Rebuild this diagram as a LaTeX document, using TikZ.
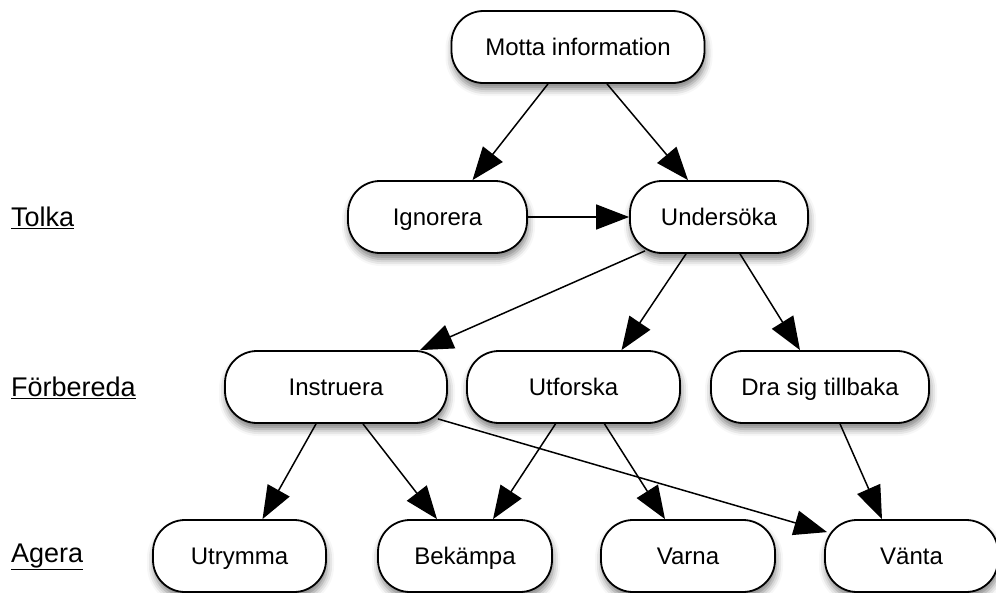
\documentclass[tikz,border=0pt]{standalone}
\usepackage{fontspec}
\setmainfont{Liberation Sans}
\usetikzlibrary{arrows.meta,shadows.blur}
\begin{document}
\begin{tikzpicture}[x=1pt,y=-1pt,
  box/.style={draw=black,line width=1.8pt,fill=white,rounded corners=32pt,
    minimum height=72pt,inner sep=0pt,text height=20pt,text depth=3pt,
    font=\fontsize{24}{27}\selectfont,
    blur shadow={shadow xshift=1pt,shadow yshift=-6pt,shadow blur radius=7pt,shadow opacity=50}},
  lvl/.style={anchor=west,inner sep=0pt,font=\fontsize{27}{30}\selectfont},
  edge/.style={line width=1.5pt,-{Triangle[length=33pt,width=25pt]}}]
\useasboundingbox (0,0) rectangle (996,592);
% nodes
\node[box,minimum width=253pt] (mo) at (578,47) {Motta information};
\node[box,minimum width=179pt] (ig) at (437.5,217) {Ignorera};
\node[box,minimum width=178pt] (un) at (719,217) {Undersöka};
\node[box,minimum width=222pt] (in) at (336,387) {Instruera};
\node[box,minimum width=213pt] (ut) at (573.5,387) {Utforska};
\node[box,minimum width=218pt] (dr) at (820,387) {Dra sig tillbaka};
\node[box,minimum width=173pt] (ur) at (239.5,556) {Utrymma};
\node[box,minimum width=174pt] (be) at (465,556) {Bekämpa};
\node[box,minimum width=174pt] (va) at (688,556) {Varna};
\node[box,minimum width=173pt] (vn) at (911.5,556) {Vänta};
% level labels
\node[lvl] (lt) at (11,218) {\underline{Tolka}};
\node[lvl] (lf) at (11,388) {\underline{Förbereda}};
\node[lvl] (la) at (11,557) {\underline{Agera}};
% edges
\draw[edge] ([xshift=-30pt]mo.south) -- ([xshift=35pt]ig.north);
\draw[edge] ([xshift=29pt]mo.south) -- ([xshift=-31pt]un.north);
\draw[edge] (ig.east) -- (un.west);
\draw[edge] ([xshift=-74pt,yshift=3pt]un.south) -- ([xshift=84pt]in.north);
\draw[edge] ([xshift=-33pt]un.south) -- ([xshift=48pt]ut.north);
\draw[edge] ([xshift=21pt]un.south) -- ([xshift=-20pt]dr.north);
\draw[edge] ([xshift=-20pt]in.south) -- ([xshift=23pt]ur.north);
\draw[edge] ([xshift=27pt]in.south) -- ([xshift=-28pt]be.north);
\draw[edge] ([xshift=-10pt,yshift=5pt]in.south east) -- ([xshift=3pt,yshift=-13pt]vn.north west);
\draw[edge] ([xshift=-18pt]ut.south) -- ([xshift=28pt]be.north);
\draw[edge] ([xshift=31pt]ut.south) -- ([xshift=-23pt]va.north);
\draw[edge] ([xshift=20pt]dr.south) -- ([xshift=-29.5pt]vn.north);
\end{tikzpicture}
\end{document}
